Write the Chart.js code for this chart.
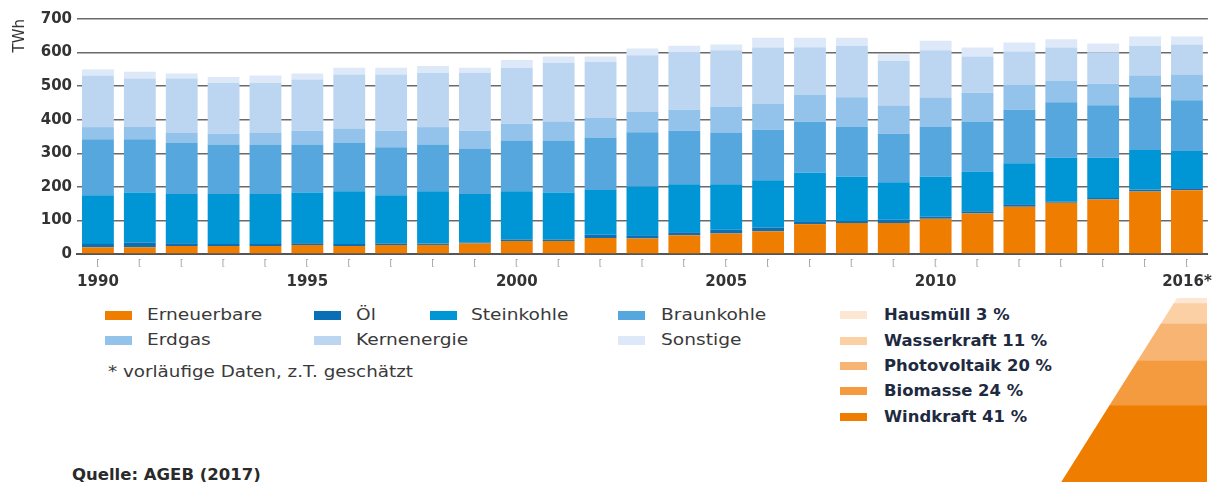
<!DOCTYPE html>
<html>
<head>
<meta charset="utf-8">
<script src="https://cdn.jsdelivr.net/npm/chart.js@4.4.0/dist/chart.umd.min.js"></script>
<style>
  html, body { margin: 0; padding: 0; background: #fff; overflow: hidden; }
  body { width: 1231px; height: 482px; position: relative; font-family: 'DejaVu Sans', sans-serif; }
  #main { position: absolute; left: 0; top: 0; width: 1231px; height: 300px; }
  #mix { position: absolute; left: 1060px; top: 298px; width: 147px; height: 184px; }
  .item { position: absolute; height: 20px; line-height: 20px; font-size: 15.5px; color: #3a3a3a; white-space: nowrap; }
  .item .txt { display: inline-block; transform: scaleX(1.2); transform-origin: left center; }
  .item .box { position: absolute; width: 27px; height: 9px; top: 6px; }
  .mixitem { position: absolute; height: 20px; line-height: 20px; font-size: 15.5px; font-weight: bold; color: #1e2a40; white-space: nowrap; }
  .mixitem .txt { display: inline-block; transform: scaleX(1.06); transform-origin: left center; }
  .mixitem .box { position: absolute; width: 27px; height: 8px; top: 6px; left: -44px; }
  .note { position: absolute; font-size: 15px; color: #3a3a3a; white-space: nowrap; transform: scaleX(1.22); transform-origin: left center; }
  .src { position: absolute; font-size: 15px; font-weight: bold; color: #2a2a2a; white-space: nowrap; transform: scaleX(1.1); transform-origin: left center; }
</style>
</head>
<body>
<div id="main"><canvas id="chart"></canvas></div>
<div id="mix"><canvas id="mixChart"></canvas></div>
<div id="legend"></div>
<div class="note" style="left:108px; top:363px;">* vorläufige Daten, z.T. geschätzt</div>
<div class="src" style="left:72px; top:466px;">Quelle: AGEB (2017)</div>
<script>
// years on the x axis, only some get a label
const years = ['1990','1991','1992','1993','1994','1995','1996','1997','1998','1999',
               '2000','2001','2002','2003','2004','2005','2006','2007','2008','2009',
               '2010','2011','2012','2013','2014','2015','2016*'];
const labeledYears = ['1990', '1995', '2000', '2005', '2010', '2016*'];

// TWh
const erneuerbare = [20,20,24,24,24,27,24,27,27,31,39,39,48,46,56,61,68,89,92,92,105,121,141,153,162,186,190];
const oel         = [10,14,8,6,6,5,6,4,4,3,4,4,10,10,9,11,11,8,6,10,7,6,7,3,5,6,6];
const steinkohle  = [145,149,147,149,149,151,157,144,156,145,144,140,133,144,143,136,141,145,132,112,118,119,122,131,120,118,111];
const braunkohle  = [167,159,152,147,147,143,144,143,139,135,151,155,156,163,159,154,150,153,148,144,148,149,160,165,156,157,151];
const erdgas      = [36,36,31,32,36,41,43,49,52,53,50,57,58,60,63,76,77,80,89,84,88,85,75,63,64,65,77];
const kernenergie = [154,145,161,152,148,153,161,168,162,173,167,174,167,169,172,169,168,141,153,133,141,108,98,100,93,88,89];
const sonstige    = [18,20,15,17,22,18,20,20,20,15,23,19,16,20,18,17,29,28,24,20,28,27,27,25,27,28,24];

// share of renewables 2016 (%)
const mixLabels = ['Windkraft 41 %', 'Biomasse 24 %', 'Photovoltaik 20 %', 'Wasserkraft 11 %', 'Hausmüll 3 %'];
const mixValues = [41, 24, 20, 11, 3];

const seriesColors = {
  'Erneuerbare': '#ef7d00',
  'Öl': '#0b6fb6',
  'Steinkohle': '#0096d6',
  'Braunkohle': '#56a7de',
  'Erdgas': '#93c2ea',
  'Kernenergie': '#bcd6f1',
  'Sonstige': '#dde9f8'
};
const mixColors = ['#ef7d00', '#f39b3e', '#f7b473', '#fad0a4', '#fde6d2'];

const series = [
  ['Erneuerbare', erneuerbare],
  ['Öl', oel],
  ['Steinkohle', steinkohle],
  ['Braunkohle', braunkohle],
  ['Erdgas', erdgas],
  ['Kernenergie', kernenergie],
  ['Sonstige', sonstige]
];

// small marks under every bar
const tickMarks = {
  id: 'tickMarks',
  afterDraw(chart) {
    const x = chart.scales.x;
    const ctx = chart.ctx;
    ctx.save();
    ctx.font = '9px "DejaVu Sans"';
    ctx.fillStyle = '#9a9a9a';
    ctx.textAlign = 'center';
    ctx.textBaseline = 'middle';
    years.forEach((y, i) => ctx.fillText('[', x.getPixelForValue(i), chart.chartArea.bottom + 10));
    ctx.restore();
  }
};

new Chart(document.getElementById('chart').getContext('2d'), {
  type: 'bar',
  data: {
    labels: years,
    datasets: series.map(([name, data]) => ({
      label: name,
      data: data,
      backgroundColor: seriesColors[name],
      borderWidth: 0,
      barPercentage: 0.76,
      categoryPercentage: 1.0
    }))
  },
  options: {
    responsive: true,
    maintainAspectRatio: false,
    animation: false,
    layout: { padding: { top: 19, right: 14, left: 11, bottom: 0 } },
    plugins: { legend: { display: false }, tooltip: { enabled: false } },
    scales: {
      x: {
        stacked: true,
        z: 1,
        grid: { display: false, drawTicks: false },
        border: { display: true, color: '#555', width: 2 },
        ticks: {
          autoSkip: false,
          maxRotation: 0,
          padding: 19,
          color: '#333',
          font: { family: 'DejaVu Sans', size: 15, weight: 'bold' },
          callback: function (value) {
            const lab = years[value];
            return labeledYears.includes(lab) ? lab : '';
          }
        },
        afterFit: function (scale) { scale.height = 46; }
      },
      y: {
        stacked: true,
        min: 0,
        max: 700,
        z: 1,
        grid: { color: '#6a6a6a', lineWidth: 1.5, drawTicks: false },
        border: { display: false },
        ticks: {
          stepSize: 100,
          padding: 5,
          color: '#333',
          font: { family: 'DejaVu Sans', size: 15, weight: 'bold' }
        },
        title: {
          display: true,
          text: 'TWh',
          align: 'end',
          color: '#333',
          padding: { top: 0, bottom: 4 },
          font: { family: 'DejaVu Sans', size: 15 }
        },
        afterFit: function (scale) { scale.width = 66; }
      }
    }
  },
  plugins: [tickMarks]
});

// slanted left edge of the renewables column
const slantClip = {
  id: 'slantClip',
  beforeDatasetsDraw(chart) {
    const a = chart.chartArea;
    const ctx = chart.ctx;
    ctx.save();
    ctx.beginPath();
    ctx.moveTo(a.right - 30, a.top);
    ctx.lineTo(a.right, a.top);
    ctx.lineTo(a.right, a.bottom + 2);
    ctx.lineTo(a.left, a.bottom + 2);
    ctx.closePath();
    ctx.clip();
  },
  afterDatasetsDraw(chart) { chart.ctx.restore(); }
};

new Chart(document.getElementById('mixChart').getContext('2d'), {
  type: 'bar',
  data: {
    labels: ['2016'],
    datasets: mixLabels.map((lab, i) => ({
      label: lab,
      data: [mixValues[i]],
      backgroundColor: mixColors[i],
      borderWidth: 0,
      barPercentage: 1.0,
      categoryPercentage: 1.0
    }))
  },
  options: {
    responsive: true,
    maintainAspectRatio: false,
    animation: false,
    layout: { padding: 0 },
    plugins: { legend: { display: false }, tooltip: { enabled: false } },
    scales: {
      x: { stacked: true, display: false },
      y: { stacked: true, display: false, min: 0, max: 99 }
    }
  },
  plugins: [slantClip]
});

// legends
const legend = document.getElementById('legend');
const leftItems = [
  ['Erneuerbare', 105, 147, 315],
  ['Öl', 314, 356, 315],
  ['Steinkohle', 430, 471, 315],
  ['Braunkohle', 618, 661, 315],
  ['Erdgas', 105, 147, 340],
  ['Kernenergie', 314, 356, 340],
  ['Sonstige', 618, 661, 340]
];
function addItem(cls, text, left, cy, color, boxLeft) {
  const d = document.createElement('div');
  d.className = cls;
  d.style.left = left + 'px';
  d.style.top = (cy - 10) + 'px';
  const t = document.createElement('span');
  t.className = 'txt';
  t.textContent = text;
  d.appendChild(t);
  const b = document.createElement('span');
  b.className = 'box';
  if (boxLeft !== null) b.style.left = boxLeft + 'px';
  b.style.background = color;
  d.appendChild(b);
  legend.appendChild(d);
}
leftItems.forEach(([name, bx, tx, cy]) => addItem('item', name, tx, cy, seriesColors[name], bx - tx));
const mixRows = [416.7, 391, 366, 340.7, 315];
mixLabels.forEach((lab, i) => addItem('mixitem', lab, 884, mixRows[i], mixColors[i], null));
</script>
</body>
</html>
